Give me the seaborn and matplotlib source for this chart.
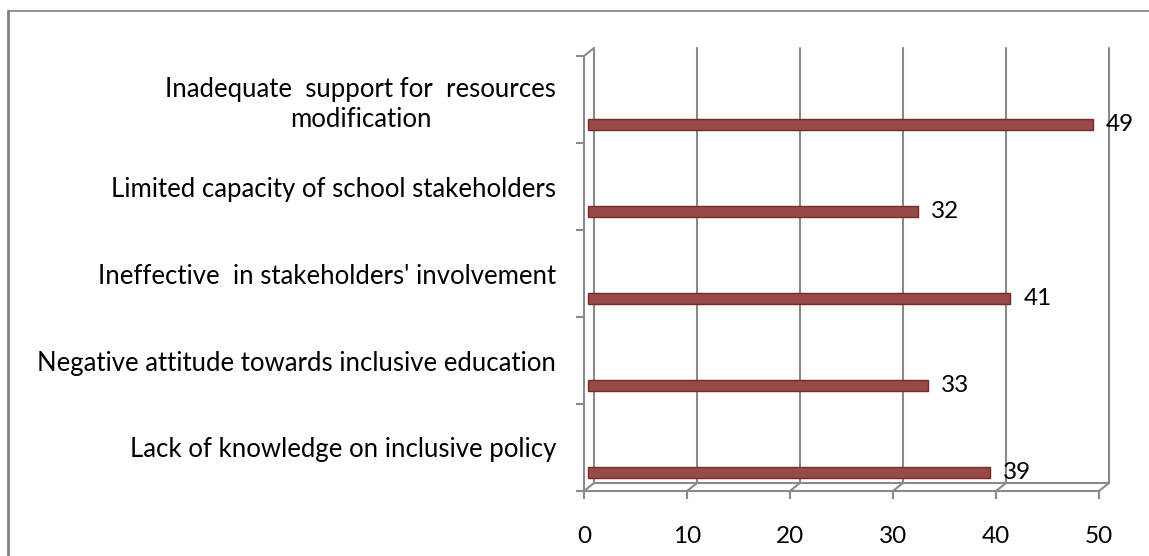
import matplotlib
matplotlib.use("Agg")
import matplotlib.pyplot as plt
from matplotlib.lines import Line2D
from matplotlib.transforms import ScaledTranslation, blended_transform_factory
import seaborn as sns
import pandas as pd

categories = [
    "Inadequate  support for  resources\nmodification",
    "Limited capacity of school stakeholders",
    "Ineffective  in stakeholders' involvement",
    "Negative attitude towards inclusive education",
    "Lack of knowledge on inclusive policy",
]
values = [49, 32, 41, 33, 39]
x_ticks = [0, 10, 20, 30, 40, 50]

sns.set_theme(style="white")
plt.rcParams["font.family"] = ["Lato", "DejaVu Sans"]

DPI = 100
W, H = 1149, 556
fig = plt.figure(figsize=(W / DPI, H / DPI), dpi=DPI)
fig.patch.set_facecolor("white")

# front plane of the axes (pixels)
left_px, right_px, top_px, bot_px = 584, 1099, 56, 491
ax = fig.add_axes([left_px / W, 1 - bot_px / H, (right_px - left_px) / W, (bot_px - top_px) / H])
ax.set_facecolor("none")

df = pd.DataFrame({"cat": categories, "val": values})
sns.barplot(data=df, x="val", y="cat", orient="h", color="#A33F3C",
            width=0.125, ax=ax, edgecolor="#7A2927", linewidth=1.0, zorder=3)

ax.set_xlim(0, 50)
ax.set_ylim(4.5, -0.5)
ax.set_xticks(x_ticks)
ax.set_xlabel("")
ax.set_ylabel("")

GRID = "#8A8A8A"
LW = 1.5
band_px = (bot_px - top_px) / 5.0
bar_dy = 25.0 / band_px  # bars sit below band centre (3D depth)
bar_dx_px = 4.0
for p in ax.patches:
    p.set_y(p.get_y() + bar_dy)
    p.set_transform(ax.transData + ScaledTranslation(bar_dx_px / DPI, 0, fig.dpi_scale_trans))

FS = 17.5
texts = ax.bar_label(ax.containers[0], padding=(13 + bar_dx_px) * 72 / DPI, fontsize=FS,
                     color="black")
for t in texts:
    t.set_transform(t.get_transform() + ScaledTranslation(0, -3 / DPI, fig.dpi_scale_trans))

# spines
for s in ["top", "right"]:
    ax.spines[s].set_visible(False)
for s in ["left", "bottom"]:
    ax.spines[s].set_color(GRID)
    ax.spines[s].set_linewidth(LW)

# ticks
ax.tick_params(axis="x", direction="out", length=6, width=LW, color=GRID,
               pad=19, labelsize=FS, labelcolor="black", bottom=True)
ax.tick_params(axis="y", which="major", length=0, pad=20, labelsize=18.5,
               labelcolor="black")
ax.set_yticks([-0.5, 0.5, 1.5, 2.5, 3.5, 4.5], minor=True)
ax.tick_params(axis="y", which="minor", direction="out", length=6, width=LW,
               color=GRID, left=True)
for lab in ax.get_yticklabels():
    lab.set_multialignment("center")
    lab.set_linespacing(1.25)

# back wall (offset)
dx, dy = 10.0 / DPI, 8.0 / DPI
back = ScaledTranslation(dx, dy, fig.dpi_scale_trans)
bt = blended_transform_factory(ax.transData, ax.transAxes)
for v in x_ticks:
    ax.add_line(Line2D([v, v], [0, 1], transform=bt + back, color=GRID, lw=LW,
                       zorder=1, clip_on=False))
ax.add_line(Line2D([0, 1], [0, 0], transform=ax.transAxes + back, color=GRID, lw=LW,
                   zorder=1, clip_on=False))

# diagonals (floor ticks and top-left corner) in pixel space
fig.canvas.draw()
def px(xd, ya):
    return bt.transform((xd, ya))
for v in x_ticks:
    x0, y0 = px(v, 0)
    fig.add_artist(Line2D([x0 / W, (x0 + 10) / W], [y0 / H, (y0 + 8) / H],
                          transform=fig.transFigure, color=GRID, lw=LW))
x0, y0 = px(0, 1)
fig.add_artist(Line2D([x0 / W, (x0 + 10) / W], [y0 / H, (y0 + 8) / H],
                      transform=fig.transFigure, color=GRID, lw=LW))

# outer frame (left and top)
fig.add_artist(Line2D([7.5 / W, 7.5 / W], [0, 1 - 11 / H], transform=fig.transFigure,
                      color="#808080", lw=2))
fig.add_artist(Line2D([7.5 / W, 1], [1 - 11 / H, 1 - 11 / H], transform=fig.transFigure,
                      color="#808080", lw=1.2))

fig.savefig("out.png", dpi=DPI)
